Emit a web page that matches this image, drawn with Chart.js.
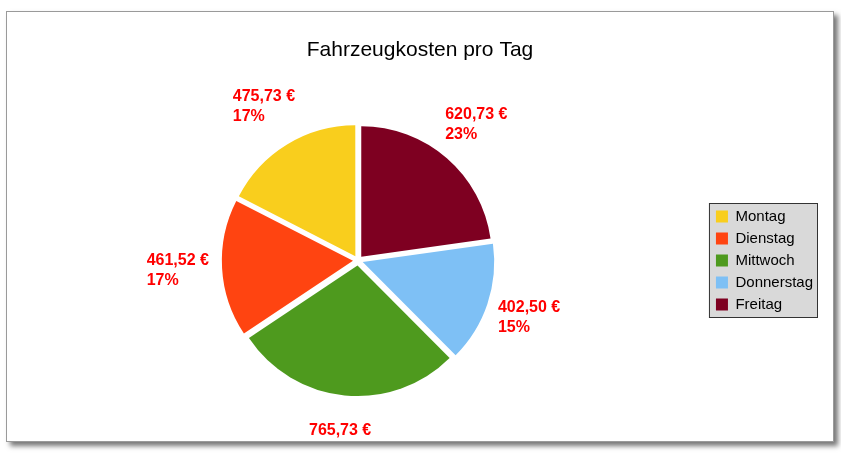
<!DOCTYPE html>
<html>
<head>
<meta charset="utf-8">
<script src="https://cdn.jsdelivr.net/npm/chart.js@4/dist/chart.umd.min.js"></script>
<style>
  body { margin: 0; background: #fff; }
  #frame {
    position: absolute; left: 6px; top: 11px; width: 826px; height: 429px;
    border: 1px solid #9a9a9a; box-shadow: 4px 4px 5px #777; background: #fff;
  }
</style>
</head>
<body>
<div id="frame"><canvas id="chart" width="826" height="429"></canvas></div>
<script>
const categories = ['Montag', 'Dienstag', 'Mittwoch', 'Donnerstag', 'Freitag'];
const costs = [475.73, 461.52, 765.73, 402.50, 620.73];
const colors = ['#F9CE1D', '#FF4411', '#4E9A1E', '#7EC0F5', '#7E0021'];
const chartTitle = 'Fahrzeugkosten pro Tag';

// Chart.js draws clockwise, the reference runs counter-clockwise from the top
const order = [4, 3, 2, 1, 0];
const total = costs.reduce((a, b) => a + b, 0);
const fmt = v => v.toFixed(2).replace('.', ',') + ' €';
const FONT = '"Liberation Sans", Arial, sans-serif';

const decor = {
  id: 'decor',
  beforeDraw(chart) {
    const ctx = chart.ctx;
    const boxes = chart.legend.legendHitBoxes;
    const x0 = Math.min(...boxes.map(b => b.left)) - 7;
    const x1 = Math.max(...boxes.map(b => b.left + b.width)) + 5;
    const y0 = Math.min(...boxes.map(b => b.top)) - 6;
    const y1 = Math.max(...boxes.map(b => b.top + b.height)) + 6;
    ctx.save();
    ctx.fillStyle = '#d9d9d9';
    ctx.strokeStyle = '#333';
    ctx.fillRect(x0, y0, x1 - x0, y1 - y0);
    ctx.strokeRect(x0 + 0.5, y0 + 0.5, x1 - x0 - 1, y1 - y0 - 1);
    ctx.fillStyle = '#000';
    ctx.font = '21px ' + FONT;
    ctx.textAlign = 'center';
    ctx.textBaseline = 'middle';
    ctx.fillText(chartTitle, 413, 38);
    ctx.restore();
  }
};

const sliceLabels = {
  id: 'sliceLabels',
  afterDatasetsDraw(chart) {
    const ctx = chart.ctx;
    const meta = chart.getDatasetMeta(0);
    ctx.save();
    ctx.fillStyle = '#FF0000';
    ctx.font = 'bold 16px ' + FONT;
    ctx.textBaseline = 'middle';
    meta.data.forEach((arc, i) => {
      const idx = order[i];
      const mid = (arc.startAngle + arc.endAngle) / 2;
      const r = arc.outerRadius + 50;
      const x = arc.x + Math.cos(mid) * r;
      const y = arc.y + Math.sin(mid) * r;
      const w = ctx.measureText(fmt(costs[idx])).width;
      ctx.textAlign = 'left';
      ctx.fillText(fmt(costs[idx]), x - w / 2, y - 10);
      ctx.fillText(Math.round(costs[idx] / total * 100) + '%', x - w / 2, y + 10);
    });
    ctx.restore();
  }
};

new Chart(document.getElementById('chart'), {
  type: 'pie',
  data: {
    labels: order.map(i => categories[i]),
    datasets: [{
      data: order.map(i => costs[i]),
      backgroundColor: order.map(i => colors[i]),
      borderWidth: 0,
      offset: 20
    }]
  },
  options: {
    responsive: false,
    animation: false,
    layout: { padding: { left: 0, right: 10, top: 108, bottom: 40 } },
    plugins: {
      title: { display: false },
      legend: {
        position: 'right',
        labels: {
          color: '#000',
          boxWidth: 12,
          boxHeight: 12,
          padding: 7,
          font: { family: FONT, size: 15 },
          sort: (a, b) => b.index - a.index
        }
      },
      tooltip: { enabled: false }
    }
  },
  plugins: [decor, sliceLabels]
});
</script>
</body>
</html>
